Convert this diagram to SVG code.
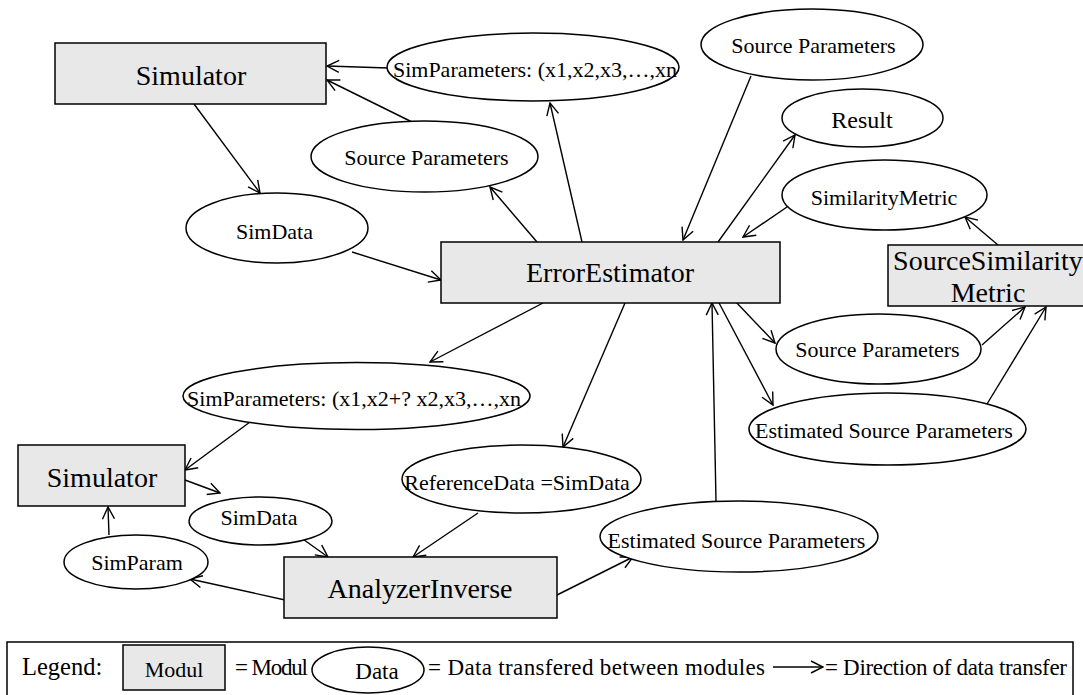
<svg xmlns="http://www.w3.org/2000/svg" width="1083" height="695" viewBox="0 0 1083 695">
  <style>
    .mod { fill: #e8e8e8; stroke: #000; stroke-width: 1.5; }
    .dat { fill: #fff; stroke: #000; stroke-width: 1.5; }
    text { font-family: 'Liberation Serif', 'DejaVu Serif', serif; fill: #000; }
    .lbl { text-anchor: middle; }
    .big { font-size: 28px; }
    .sm { font-size: 22px; }
    .lg { font-size: 23px; }
    .edge { stroke: #000; stroke-width: 1.4; fill: none; marker-end: url(#arr); }
  </style>
  <defs>
    <marker id="arr" viewBox="-13 -7 14 14" refX="0" refY="0" markerWidth="14" markerHeight="14" markerUnits="userSpaceOnUse" orient="auto">
      <path d="M-12,-6 L0,0 L-12,6" fill="none" stroke="#000" stroke-width="1.4"/>
    </marker>
  </defs>
  <rect width="1083" height="695" fill="#fff"/>

  <!-- data links -->
  <g id="connectors">
    <line class="edge" x1="194" y1="104" x2="260" y2="193"/>
    <line class="edge" x1="388" y1="68" x2="327" y2="66"/>
    <line class="edge" x1="412" y1="122" x2="327" y2="80"/>
    <line class="edge" x1="352" y1="252" x2="441" y2="280"/>
    <line class="edge" x1="537" y1="242" x2="490" y2="187"/>
    <line class="edge" x1="582" y1="242" x2="550" y2="103"/>
    <line class="edge" x1="751" y1="76" x2="683" y2="240"/>
    <line class="edge" x1="718" y1="242" x2="795" y2="135"/>
    <line class="edge" x1="787" y1="207" x2="743" y2="237"/>
    <line class="edge" x1="998" y1="245" x2="965" y2="217"/>
    <line class="edge" x1="735" y1="301" x2="775" y2="343"/>
    <line class="edge" x1="718" y1="301" x2="773" y2="405"/>
    <line class="edge" x1="982" y1="345" x2="1025" y2="307"/>
    <line class="edge" x1="987" y1="404" x2="1046" y2="307"/>
    <line class="edge" x1="716" y1="501" x2="712" y2="303"/>
    <line class="edge" x1="543" y1="303" x2="430" y2="362"/>
    <line class="edge" x1="625" y1="303" x2="563" y2="447"/>
    <line class="edge" x1="250" y1="422" x2="185" y2="470"/>
    <line class="edge" x1="185" y1="480" x2="220" y2="493"/>
    <line class="edge" x1="300" y1="537" x2="328" y2="557"/>
    <line class="edge" x1="109" y1="535" x2="108" y2="507"/>
    <line class="edge" x1="285" y1="600" x2="190" y2="579"/>
    <line class="edge" x1="478" y1="513" x2="413" y2="557"/>
    <line class="edge" x1="557" y1="595" x2="633" y2="557"/>
  </g>

  <!-- modules -->
  <g id="simulator-top">
    <rect class="mod" x="55" y="43" width="271" height="61"/>
    <text class="lbl big" x="191" y="85">Simulator</text>
  </g>
  <g id="error-estimator">
    <rect class="mod" x="441" y="242" width="339" height="61"/>
    <text class="lbl big" x="610" y="282">ErrorEstimator</text>
  </g>
  <g id="source-similarity-metric">
    <rect class="mod" x="888" y="245" width="200" height="61"/>
    <text class="lbl big" x="988" y="270">SourceSimilarity</text>
    <text class="lbl big" x="988" y="302">Metric</text>
  </g>
  <g id="simulator-bottom">
    <rect class="mod" x="18" y="445" width="167" height="61"/>
    <text class="lbl big" x="102" y="487">Simulator</text>
  </g>
  <g id="analyzer-inverse">
    <rect class="mod" x="284" y="557" width="273" height="61"/>
    <text class="lbl big" x="420" y="598">AnalyzerInverse</text>
  </g>

  <!-- data items -->
  <g id="sim-parameters-top">
    <ellipse class="dat" cx="533" cy="67" rx="146" ry="34"/>
    <text class="lbl sm" x="535" y="77">SimParameters: (x1,x2,x3,…,xn</text>
  </g>
  <g id="source-parameters-mid">
    <ellipse class="dat" cx="424.5" cy="156.5" rx="113.5" ry="35.5"/>
    <text class="lbl sm" x="426.5" y="165">Source Parameters</text>
  </g>
  <g id="source-parameters-top">
    <ellipse class="dat" cx="812" cy="44.5" rx="111" ry="35.5"/>
    <text class="lbl sm" x="813.5" y="53">Source Parameters</text>
  </g>
  <g id="result">
    <ellipse class="dat" cx="862.5" cy="118" rx="80.5" ry="29"/>
    <text class="lbl" x="862" y="128" style="font-size:24px">Result</text>
  </g>
  <g id="sim-data-top">
    <ellipse class="dat" cx="277" cy="228" rx="91" ry="35"/>
    <text class="lbl sm" x="274.5" y="239">SimData</text>
  </g>
  <g id="similarity-metric">
    <ellipse class="dat" cx="884.5" cy="195" rx="102.5" ry="35"/>
    <text class="lbl sm" x="884" y="205">SimilarityMetric</text>
  </g>
  <g id="source-parameters-right">
    <ellipse class="dat" cx="878.5" cy="349" rx="102.5" ry="35"/>
    <text class="lbl sm" x="877.5" y="357">Source Parameters</text>
  </g>
  <g id="estimated-source-parameters-right">
    <ellipse class="dat" cx="887.5" cy="429" rx="138.5" ry="36"/>
    <text class="lbl sm" x="884" y="438">Estimated Source Parameters</text>
  </g>
  <g id="sim-parameters-bottom">
    <ellipse class="dat" cx="356.5" cy="396" rx="173.5" ry="33.5"/>
    <text class="lbl sm" x="354" y="406">SimParameters: (x1,x2+? x2,x3,…,xn</text>
  </g>
  <g id="reference-data">
    <ellipse class="dat" cx="521.5" cy="479" rx="119.5" ry="34"/>
    <text class="lbl sm" x="517" y="490">ReferenceData =SimData</text>
  </g>
  <g id="sim-data-bottom">
    <ellipse class="dat" cx="260.5" cy="521" rx="71.5" ry="24"/>
    <text class="lbl sm" x="259" y="525">SimData</text>
  </g>
  <g id="sim-param">
    <ellipse class="dat" cx="136" cy="562" rx="72" ry="27"/>
    <text class="lbl sm" x="137" y="570">SimParam</text>
  </g>
  <g id="estimated-source-parameters-bottom">
    <ellipse class="dat" cx="739" cy="536.5" rx="139" ry="35.5"/>
    <text class="lbl sm" x="736.5" y="548">Estimated Source Parameters</text>
  </g>

  <!-- legend -->
  <g id="legend">
    <rect x="7" y="642" width="1066" height="60" fill="none" stroke="#000" stroke-width="1.5"/>
    <text class="lg" x="22" y="675" style="font-size:24.5px">Legend:</text>
    <rect class="mod" x="123" y="645" width="102" height="45"/>
    <text class="lbl" x="174" y="677" style="font-size:22px">Modul</text>
    <text class="lg" x="235" y="675" textLength="73">= Modul</text>
    <ellipse class="dat" cx="368" cy="670" rx="56" ry="23"/>
    <text class="lbl" x="377" y="679" style="font-size:23px">Data</text>
    <text class="lg" x="428" y="675" textLength="337">= Data transfered between modules</text>
    <line class="edge" x1="773" y1="667" x2="823" y2="667"/>
    <text class="lg" x="825" y="675" textLength="242">= Direction of data transfer</text>
  </g>
</svg>
